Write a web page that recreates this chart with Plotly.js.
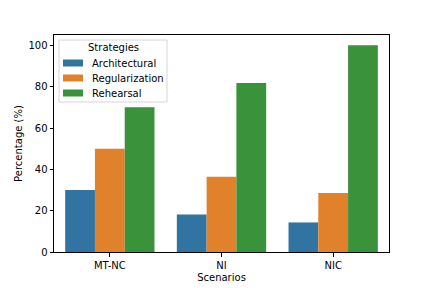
<!DOCTYPE html>
<html>
<head>
<meta charset="utf-8">
<script src="https://cdn.plot.ly/plotly-3.0.1.min.js"></script>
<style>html,body{margin:0;padding:0;background:#fff;}#chart{width:432px;height:288px;}</style>
</head>
<body>
<div id="chart"></div>
<script>
const scenarios = ["MT-NC", "NI", "NIC"];
const strategies = ["Architectural", "Regularization", "Rehearsal"];
const architectural = [30.0, 18.2, 14.3];
const regularization = [50.0, 36.4, 28.6];
const rehearsal = [70.0, 81.8, 100.0];
const colors = ["#3274a1", "#e1812c", "#3a923a"];
const series = [architectural, regularization, rehearsal];

const traces = series.map((vals, i) => ({
  type: "bar",
  name: strategies[i],
  x: scenarios,
  y: vals,
  marker: {color: colors[i], line: {width: 0}},
  hoverinfo: "none"
}));

const M = {l: 54, r: 43, t: 35, b: 36};
const PW = 432 - M.l - M.r, PH = 288 - M.t - M.b;
const px = v => (v - M.l) / PW;
const py = v => (288 - M.b - v) / PH;

const font = {family: "DejaVu Sans", size: 10, color: "#000"};

// custom legend (matplotlib style)
const shapes = [{
  type: "rect", xref: "paper", yref: "paper",
  x0: px(59), x1: px(167), y0: py(102), y1: py(40),
  fillcolor: "rgba(255,255,255,0.8)", line: {color: "#d6d6d6", width: 1}
}];
const annotations = [{
  xref: "paper", yref: "paper", x: px(113), y: py(48),
  text: "Strategies", showarrow: false, xanchor: "center", yanchor: "middle", font: font
}];
strategies.forEach((s, i) => {
  const cy = 63 + i * 15;
  shapes.push({
    type: "rect", xref: "paper", yref: "paper",
    x0: px(63), x1: px(83), y0: py(cy + 3.5), y1: py(cy - 3.5),
    fillcolor: colors[i], line: {width: 0}
  });
  annotations.push({
    xref: "paper", yref: "paper", x: px(90), y: py(cy),
    text: s, showarrow: false, xanchor: "left", yanchor: "middle", font: font
  });
});

const layout = {
  width: 432, height: 288,
  margin: M,
  paper_bgcolor: "#fff", plot_bgcolor: "#fff",
  barmode: "group", bargap: 0.2, bargroupgap: 0,
  font: font,
  showlegend: false,
  shapes: shapes,
  annotations: annotations,
  xaxis: {
    range: [-0.5, 2.5],
    showline: true, mirror: true, linecolor: "#000", linewidth: 1,
    ticks: "outside", ticklen: 3.5, tickcolor: "#000", tickwidth: 1,
    showgrid: false, zeroline: false,
    tickfont: font,
    title: {text: "Scenarios", font: font, standoff: 4}
  },
  yaxis: {
    range: [0, 105],
    tickvals: [0, 20, 40, 60, 80, 100],
    showline: true, mirror: true, linecolor: "#000", linewidth: 1,
    ticks: "outside", ticklen: 3.5, tickcolor: "#000", tickwidth: 1,
    showgrid: false, zeroline: false,
    tickfont: font,
    title: {text: "Percentage (%)", font: font, standoff: 3}
  }
};
Plotly.newPlot("chart", traces, layout, {staticPlot: true, displayModeBar: false});
</script>
</body>
</html>
